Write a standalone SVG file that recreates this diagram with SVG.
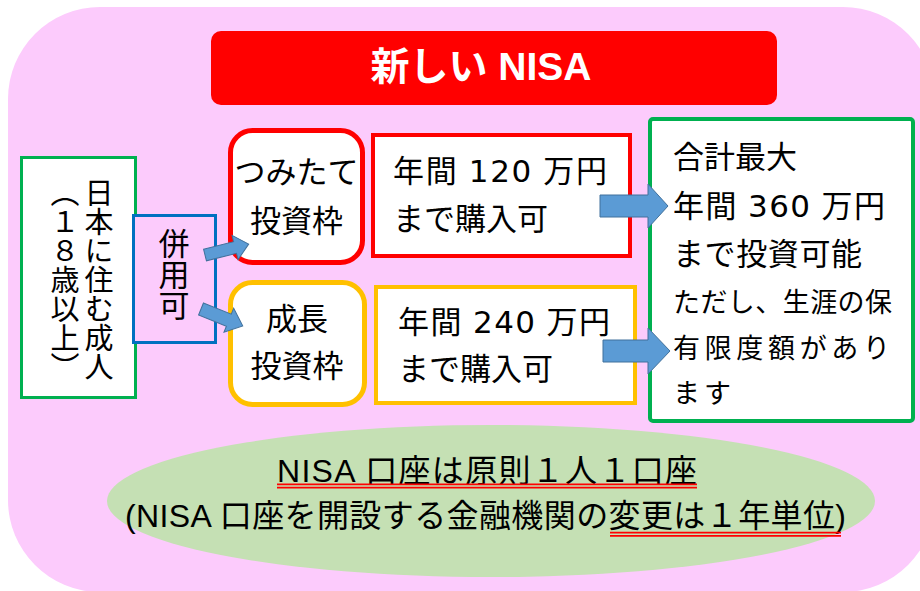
<svg xmlns="http://www.w3.org/2000/svg" width="920" height="591" viewBox="0 0 920 591">
<style>
  .t { font-family: "Liberation Sans", "Noto Sans CJK JP", sans-serif; fill: #000; }
  .d { font-family: "DejaVu Sans", "Liberation Sans", sans-serif; }
  .arrow { fill: #5B9BD5; stroke: #41719C; stroke-width: 1; }
  .ul { stroke: #FF0000; stroke-width: 1.8; }
  .v { writing-mode: vertical-rl; }
</style>
<rect x="0" y="0" width="920" height="591" fill="#FFFFFF"/>
<rect id="background" x="8" y="7" width="927" height="585" rx="92" ry="92" fill="#FCCBFC"/>

<g id="title">
  <rect x="211" y="31" width="566" height="74" rx="10" fill="#FF0000"/>
  <text class="t" x="481" y="80" font-size="39" font-weight="bold" style="fill:#FFFFFF" text-anchor="middle">新しい NISA</text>
</g>

<g id="adult">
  <rect x="21.5" y="157.5" width="114" height="240" fill="#FFFFFF" stroke="#00B050" stroke-width="3"/>
  <text class="t v" x="96" y="178" font-size="29">日本に住む成人</text>
  <text class="t v" x="62" y="178" font-size="29">（１８歳以上）</text>
</g>

<g id="combined">
  <rect x="133.5" y="215.5" width="82" height="127" fill="#FCCBFC" stroke="#0070C0" stroke-width="3"/>
  <text class="t v" x="171" y="228" font-size="31">併用可</text>
</g>

<g id="tsumitate">
  <rect x="230.5" y="130.5" width="132" height="132" rx="22" fill="#FFFFFF" stroke="#FF0000" stroke-width="5"/>
  <text class="t" x="296.5" y="183" font-size="31" text-anchor="middle">つみたて</text>
  <text class="t" x="296.5" y="232" font-size="31" text-anchor="middle">投資枠</text>
</g>

<g id="tsumitate-limit">
  <rect x="373" y="135" width="257" height="121" fill="#FFFFFF" stroke="#FF0000" stroke-width="4"/>
  <text class="t" x="393" y="182" font-size="31" textLength="214" lengthAdjust="spacing">年間 <tspan class="d">120</tspan> 万円</text>
  <text class="t" x="393" y="230" font-size="31">まで購入可</text>
</g>

<g id="growth">
  <rect x="230.5" y="282.5" width="134" height="122" rx="22" fill="#FFFFFF" stroke="#FFC000" stroke-width="5"/>
  <text class="t" x="297" y="330" font-size="31" text-anchor="middle">成長</text>
  <text class="t" x="297" y="377" font-size="31" text-anchor="middle">投資枠</text>
</g>

<g id="growth-limit">
  <rect x="376" y="287" width="259" height="116" fill="#FFFFFF" stroke="#FFC000" stroke-width="4"/>
  <text class="t" x="398" y="333" font-size="31" textLength="212" lengthAdjust="spacing">年間 <tspan class="d">240</tspan> 万円</text>
  <text class="t" x="398" y="380" font-size="31">まで購入可</text>
</g>

<g id="total">
  <rect x="650" y="119" width="263" height="302" rx="3" fill="#FFFFFF" stroke="#00B050" stroke-width="4"/>
  <text class="t" x="673" y="168" font-size="31">合計最大</text>
  <text class="t" x="673" y="217" font-size="31" textLength="212" lengthAdjust="spacing">年間 <tspan class="d">360</tspan> 万円</text>
  <text class="t" x="673" y="265" font-size="31" textLength="189" lengthAdjust="spacing">まで投資可能</text>
  <text class="t" x="673" y="312" font-size="27" textLength="219" lengthAdjust="spacing">ただし、生涯の保</text>
  <text class="t" x="673" y="358" font-size="27" textLength="217" lengthAdjust="spacing">有限度額があり</text>
  <text class="t" x="673" y="403" font-size="27" letter-spacing="4">ます</text>
</g>

<g id="connectors">
  <path class="arrow" transform="translate(205,255) rotate(-14)" d="M0,-6 L31,-6 L31,-12.5 L45,0 L31,12.5 L31,6 L0,6 Z"/>
  <path class="arrow" transform="translate(201,309) rotate(22)" d="M0,-6.5 L30,-6.5 L30,-13 L45,0 L30,13 L30,6.5 L0,6.5 Z"/>
  <path class="arrow" transform="translate(600,206)" d="M0,-11 L48,-11 L48,-22 L68,0 L48,22 L48,11 L0,11 Z"/>
  <path class="arrow" transform="translate(603,351)" d="M0,-11 L45,-11 L45,-23 L67,0 L45,23 L45,11 L0,11 Z"/>
</g>

<g id="account-note">
  <ellipse cx="491" cy="501" rx="384" ry="76" fill="#C5E0B4"/>
  <text class="t" x="277" y="482" font-size="32" textLength="420" lengthAdjust="spacing">NISA 口座は原則１人１口座</text>
  <line class="ul" x1="277" y1="484.3" x2="697" y2="484.3"/>
  <line class="ul" x1="277" y1="487.6" x2="697" y2="487.6"/>
  <text class="t" x="125" y="527" font-size="32" textLength="721" lengthAdjust="spacing">(NISA 口座を開設する金融機関の変更は１年単位)</text>
  <line class="ul" x1="610" y1="532.7" x2="841" y2="532.7"/>
  <line class="ul" x1="610" y1="535.9" x2="841" y2="535.9"/>
</g>
</svg>
